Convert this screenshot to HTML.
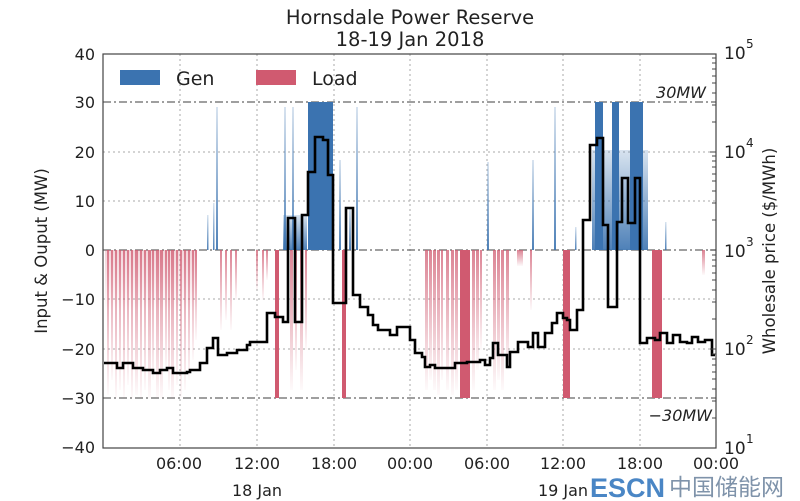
<!DOCTYPE html>
<html><head><meta charset="utf-8"><style>
body{margin:0;background:#fff;width:800px;height:501px;overflow:hidden}
svg{display:block;font-family:"DejaVu Sans","Liberation Sans",sans-serif}
</style></head><body>
<svg width="800" height="501" viewBox="0 0 800 501">
<defs>
<linearGradient id="rf" x1="0" y1="0" x2="0" y2="1"><stop offset="0" stop-color="#d05a70" stop-opacity="0.75"/><stop offset="1" stop-color="#d05a70" stop-opacity="0.03"/></linearGradient>
<linearGradient id="bf" x1="0" y1="1" x2="0" y2="0"><stop offset="0" stop-color="#3b73b0" stop-opacity="0.9"/><stop offset="1" stop-color="#3b73b0" stop-opacity="0.2"/></linearGradient>
</defs>
<text x="410" y="24" font-size="19.5" text-anchor="middle" fill="#222">Hornsdale Power Reserve</text>
<text x="410" y="46" font-size="19.5" text-anchor="middle" fill="#222">18-19 Jan 2018</text>
<g stroke="#aaa" stroke-width="1" stroke-dasharray="2,3">
<line x1="180" y1="54" x2="180" y2="448"/><line x1="257" y1="54" x2="257" y2="448"/><line x1="334" y1="54" x2="334" y2="448"/><line x1="410" y1="54" x2="410" y2="448"/><line x1="487" y1="54" x2="487" y2="448"/><line x1="563" y1="54" x2="563" y2="448"/><line x1="640" y1="54" x2="640" y2="448"/>
<line x1="103" y1="152" x2="716" y2="152"/><line x1="103" y1="201" x2="716" y2="201"/><line x1="103" y1="299" x2="716" y2="299"/><line x1="103" y1="349" x2="716" y2="349"/>
</g>
<g stroke="#666" stroke-width="1.2" stroke-dasharray="8,3,2,3">
<line x1="103" y1="102" x2="716" y2="102"/><line x1="103" y1="250" x2="716" y2="250"/><line x1="103" y1="398" x2="716" y2="398"/>
</g>
<rect x="105" y="250" width="92" height="60" fill="url(#rf)" opacity="0.35"/>
<g fill="url(#rf)">
<rect x="107" y="250" width="2" height="145"/><rect x="111" y="250" width="2" height="130"/><rect x="115" y="250" width="2" height="148"/><rect x="119" y="250" width="2" height="140"/><rect x="123" y="250" width="2" height="148"/><rect x="127" y="250" width="2" height="135"/><rect x="131" y="250" width="2" height="148"/><rect x="135" y="250" width="3" height="145"/><rect x="140" y="250" width="2" height="148"/><rect x="144" y="250" width="2" height="140"/><rect x="148" y="250" width="3" height="148"/><rect x="152" y="250" width="2" height="130"/><rect x="156" y="250" width="3" height="148"/><rect x="160" y="250" width="3" height="148"/><rect x="165" y="250" width="2" height="120"/><rect x="168" y="250" width="2" height="140"/><rect x="171" y="250" width="3" height="148"/><rect x="176" y="250" width="2" height="135"/><rect x="180" y="250" width="2" height="148"/><rect x="184" y="250" width="2" height="140"/><rect x="188" y="250" width="2" height="130"/><rect x="192" y="250" width="2" height="110"/><rect x="195" y="250" width="2" height="90"/>
<rect x="220" y="250" width="2" height="80"/><rect x="225" y="250" width="2" height="70"/><rect x="230" y="250" width="2" height="80"/><rect x="235" y="250" width="2" height="50"/>
<rect x="256" y="250" width="2" height="40"/><rect x="262" y="250" width="2" height="50"/><rect x="266" y="250" width="2" height="30"/>
<rect x="290" y="250" width="3" height="140"/><rect x="295" y="250" width="2" height="120"/><rect x="300" y="250" width="3" height="140"/><rect x="305" y="250" width="2" height="100"/>
<rect x="425" y="250" width="3" height="140"/><rect x="429" y="250" width="3" height="130"/><rect x="433" y="250" width="3" height="140"/><rect x="437" y="250" width="3" height="145"/><rect x="441" y="250" width="2" height="130"/><rect x="446" y="250" width="3" height="140"/><rect x="451" y="250" width="3" height="145"/><rect x="455" y="250" width="3" height="140"/><rect x="472" y="250" width="3" height="140"/><rect x="476" y="250" width="3" height="120"/><rect x="480" y="250" width="2" height="100"/>
<rect x="493" y="250" width="3" height="140"/><rect x="497" y="250" width="3" height="130"/><rect x="501" y="250" width="3" height="140"/><rect x="506" y="250" width="3" height="120"/><rect x="517" y="250" width="6" height="16"/><rect x="530" y="250" width="2" height="60"/><rect x="702" y="250" width="3" height="25"/>
</g>
<g fill="#d05a70">
<rect x="460" y="250" width="10" height="148"/><rect x="275" y="250" width="4" height="148"/><rect x="342" y="250" width="4" height="148"/><rect x="563" y="250" width="7" height="148"/><rect x="652" y="250" width="10" height="148"/>
</g>
<g fill="url(#bf)">
<rect x="207" y="215" width="1.5" height="35"/><rect x="213" y="203" width="1.5" height="47"/><rect x="216" y="107" width="2" height="143"/>
<rect x="284" y="107" width="2" height="143"/><rect x="292" y="107" width="2" height="143"/><rect x="283" y="215" width="24" height="35"/>
<rect x="339" y="160" width="2" height="90"/><rect x="349" y="208" width="2" height="42"/><rect x="356" y="107" width="2" height="143"/>
<rect x="487" y="162" width="2" height="88"/><rect x="532" y="160" width="2" height="90"/><rect x="554" y="107" width="2" height="143"/><rect x="575" y="227" width="1.5" height="23"/>
<rect x="592" y="150" width="56" height="100"/><rect x="665" y="222" width="1.5" height="28"/>
</g>
<g fill="#3b73b0">
<rect x="308" y="102" width="25" height="148"/>
<rect x="595" y="102" width="8" height="148"/><rect x="612" y="102" width="7" height="148"/><rect x="630" y="102" width="13" height="148"/>
</g>
<path fill="none" stroke="#000" stroke-width="2.6" d="M104,363 H117 V368 H123 V363 H133 V368 H143 V370 H153 V373 H160 V370 H167 V368 H173 V373 H187 V372 H190 V370 H200 V363 H207 V348 H213 V338 H218 V355 H227 V353 H237 V350 H247 V345 H250 V342 H267 V313 H275 V317 H283 V322 H288 V218 H295 V322 H302 V215 H308 V172 H315 V137 H323 V140 H328 V175 H333 V303 H346 V208 H353 V295 H360 V307 H368 V315 H373 V325 H378 V330 H390 V335 H397 V327 H410 V340 H415 V353 H422 V357 H425 V367 H430 V365 H435 V368 H455 V363 H467 V362 H480 V360 H485 V365 H490 V358 H493 V343 H498 V355 H507 V367 H510 V352 H518 V342 H528 V347 H533 V333 H538 V347 H545 V333 H552 V323 H557 V313 H563 V318 H567 V320 H570 V330 H577 V310 H583 V220 H590 V145 H597 V138 H603 V225 H608 V307 H617 V222 H622 V178 H628 V223 H635 V178 H640 V343 H647 V338 H655 V340 H660 V333 H667 V343 H673 V335 H680 V342 H687 V343 H692 V337 H698 V342 H705 V340 H712 V355 H715"/>
<rect x="103" y="54" width="613" height="394" fill="none" stroke="#444" stroke-width="1.2"/>
<g stroke="#444" stroke-width="1">
<line x1="716" y1="152" x2="710" y2="152"/><line x1="716" y1="250" x2="710" y2="250"/><line x1="716" y1="349" x2="710" y2="349"/>
<line x1="716" y1="418" x2="712" y2="418"/><line x1="716" y1="401" x2="712" y2="401"/><line x1="716" y1="389" x2="712" y2="389"/><line x1="716" y1="379" x2="712" y2="379"/><line x1="716" y1="372" x2="712" y2="372"/><line x1="716" y1="365" x2="712" y2="365"/><line x1="716" y1="359" x2="712" y2="359"/><line x1="716" y1="354" x2="712" y2="354"/>
<line x1="716" y1="319" x2="712" y2="319"/><line x1="716" y1="302" x2="712" y2="302"/><line x1="716" y1="290" x2="712" y2="290"/><line x1="716" y1="280" x2="712" y2="280"/><line x1="716" y1="273" x2="712" y2="273"/><line x1="716" y1="266" x2="712" y2="266"/><line x1="716" y1="260" x2="712" y2="260"/><line x1="716" y1="255" x2="712" y2="255"/>
<line x1="716" y1="220" x2="712" y2="220"/><line x1="716" y1="203" x2="712" y2="203"/><line x1="716" y1="191" x2="712" y2="191"/><line x1="716" y1="181" x2="712" y2="181"/><line x1="716" y1="174" x2="712" y2="174"/><line x1="716" y1="167" x2="712" y2="167"/><line x1="716" y1="161" x2="712" y2="161"/><line x1="716" y1="156" x2="712" y2="156"/>
<line x1="716" y1="122" x2="712" y2="122"/><line x1="716" y1="105" x2="712" y2="105"/><line x1="716" y1="93" x2="712" y2="93"/><line x1="716" y1="83" x2="712" y2="83"/><line x1="716" y1="76" x2="712" y2="76"/><line x1="716" y1="69" x2="712" y2="69"/><line x1="716" y1="63" x2="712" y2="63"/><line x1="716" y1="58" x2="712" y2="58"/>
</g>
<rect x="120" y="70" width="40" height="15" fill="#3b73b0"/><text x="176" y="85" font-size="19" fill="#222">Gen</text>
<rect x="256" y="70" width="40" height="15" fill="#d05a70"/><text x="312" y="85" font-size="19" fill="#222">Load</text>
<text x="706" y="98" font-size="16" font-style="italic" text-anchor="end" fill="#222">30MW</text>
<text x="712" y="421" font-size="16" font-style="italic" text-anchor="end" fill="#222">−30MW</text>
<g font-size="16" text-anchor="end" fill="#222">
<text x="95" y="60">40</text><text x="95" y="108">30</text><text x="95" y="158">20</text><text x="95" y="207">10</text><text x="95" y="256">0</text><text x="95" y="305">−10</text><text x="95" y="355">−20</text><text x="95" y="404">−30</text><text x="95" y="453">−40</text>
</g>
<text transform="translate(47,251) rotate(-90)" font-size="16.5" text-anchor="middle" fill="#222">Input &amp; Ouput (MW)</text>
<g font-size="17" fill="#222">
<text x="724" y="59">10</text><text x="746" y="48" font-size="12">5</text>
<text x="724" y="158">10</text><text x="746" y="147" font-size="12">4</text>
<text x="724" y="257">10</text><text x="746" y="246" font-size="12">3</text>
<text x="724" y="355">10</text><text x="746" y="344" font-size="12">2</text>
<text x="724" y="454">10</text><text x="746" y="443" font-size="12">1</text>
</g>
<text transform="translate(775,251) rotate(-90)" font-size="16.5" text-anchor="middle" fill="#222">Wholesale price ($/MWh)</text>
<g font-size="16" text-anchor="middle" fill="#222">
<text x="179" y="469">06:00</text><text x="257" y="469">12:00</text><text x="334" y="469">18:00</text><text x="410" y="469">00:00</text><text x="487" y="469">06:00</text><text x="563" y="469">12:00</text><text x="640" y="469">18:00</text><text x="716" y="469">00:00</text>
<text x="257" y="496">18 Jan</text><text x="563" y="496">19 Jan</text>
</g>
<text x="590" y="497" font-size="27" font-weight="bold" fill="#4a86c5" font-family="Liberation Sans,sans-serif">ESCN</text>
<text x="669" y="495" font-size="23" fill="#7f93aa" font-family="'Noto Sans CJK SC',sans-serif">中国储能网</text>
</svg>
</body></html>
